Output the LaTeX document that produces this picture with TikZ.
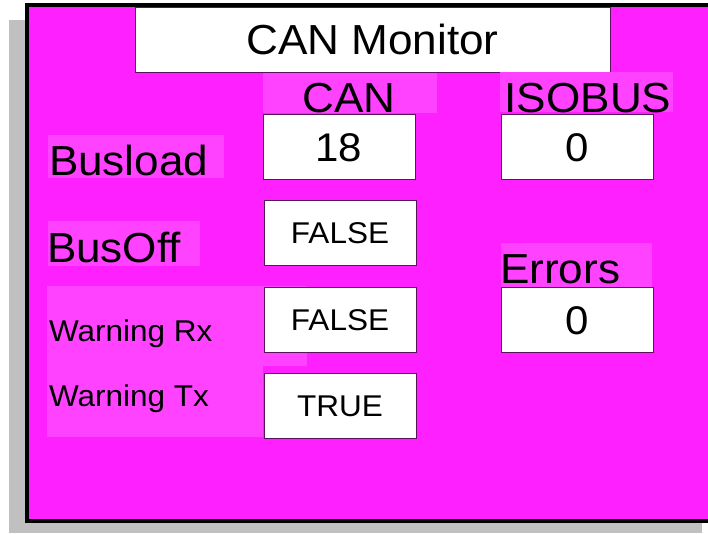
\documentclass[tikz,border=0pt]{standalone}
\usepackage{fontspec}
\setmainfont[FakeStretch=1.05]{Liberation Sans}
\usepackage{xcolor}
\usepackage{tikz}

\definecolor{panelcolor}{RGB}{255,32,255}
\definecolor{hilitecolor}{RGB}{255,66,255}
\definecolor{shadowcolor}{RGB}{192,192,192}
\definecolor{edgecolor}{RGB}{90,20,90}

\begin{document}
\begin{tikzpicture}[x=1pt, y=-1pt, every node/.style={inner sep=0pt, outer sep=0pt}]
  \tikzstyle{hilite} = [rectangle, fill=hilitecolor, anchor=north west]
  \tikzstyle{valuebox} = [rectangle, draw=edgecolor, line width=1pt, fill=white,
                          minimum width=152pt, minimum height=65pt, anchor=north west]
  \tikzstyle{bigval} = [font=\fontsize{40}{48}\selectfont, text height=29pt, text depth=0pt]
  \tikzstyle{smallval} = [font=\fontsize{30}{36}\selectfont, text height=21.5pt, text depth=0pt]
  \tikzstyle{biglabel} = [anchor=base west, font=\fontsize{42}{50}\selectfont]
  \tikzstyle{smalllabel} = [anchor=base west, font=\fontsize{30}{36}\selectfont]

  % page background
  \fill[white] (0,0) rectangle (708,533);
  \useasboundingbox (0,0) rectangle (708,533);
  % shadow and panel (open on the right, it runs off the page)
  \fill[shadowcolor] (9,20) rectangle (702,533);
  \fill[panelcolor] (27,5) rectangle (708,521);
  \draw[line width=4pt] (708,5) -- (27,5) -- (27,521) -- (708,521);

  \node (title) [valuebox, minimum width=475pt, font=\fontsize{42}{50}\selectfont,
                 text height=30pt, text depth=0pt] at (135,7) {CAN Monitor};

  % label backgrounds
  \node (canbg) [hilite, minimum width=174pt, minimum height=40pt] at (263,73) {};
  \node (isobg) [hilite, minimum width=173pt, minimum height=40pt] at (500,72) {};
  \node (busloadbg) [hilite, minimum width=176pt, minimum height=43pt] at (48,135) {};
  \node (busoffbg) [hilite, minimum width=152pt, minimum height=45pt] at (48,221) {};
  \node (rxbg) [hilite, minimum width=260pt, minimum height=80pt] at (47,286) {};
  \node (txbg) [hilite, minimum width=216pt, minimum height=71pt] at (47,366) {};
  \node (errbg) [hilite, minimum width=151pt, minimum height=44pt] at (501,243) {};

  % labels
  \node (canhead) [biglabel, anchor=base] at (349,112) {CAN};
  \node (isohead) [biglabel, anchor=base] at (588,112) {ISOBUS};
  \node (busload) [biglabel] at (49,175) {Busload};
  \node (busoff) [biglabel] at (47,262) {BusOff};
  \node (warnrx) [smalllabel] at (49,341) {Warning Rx};
  \node (warntx) [smalllabel] at (49,406) {Warning Tx};
  \node (errors) [biglabel] at (500,283) {Errors};

  % values
  \node (canval) [valuebox, bigval] at (263,114) {18};
  \node (isoval) [valuebox, bigval] at (501,114) {0};
  \node (offval) [valuebox, smallval] at (264,200) {FALSE};
  \node (rxval) [valuebox, smallval] at (264,287) {FALSE};
  \node (txval) [valuebox, smallval] at (264,373) {TRUE};
  \node (errval) [valuebox, bigval] at (501,287) {0};
\end{tikzpicture}
\end{document}
